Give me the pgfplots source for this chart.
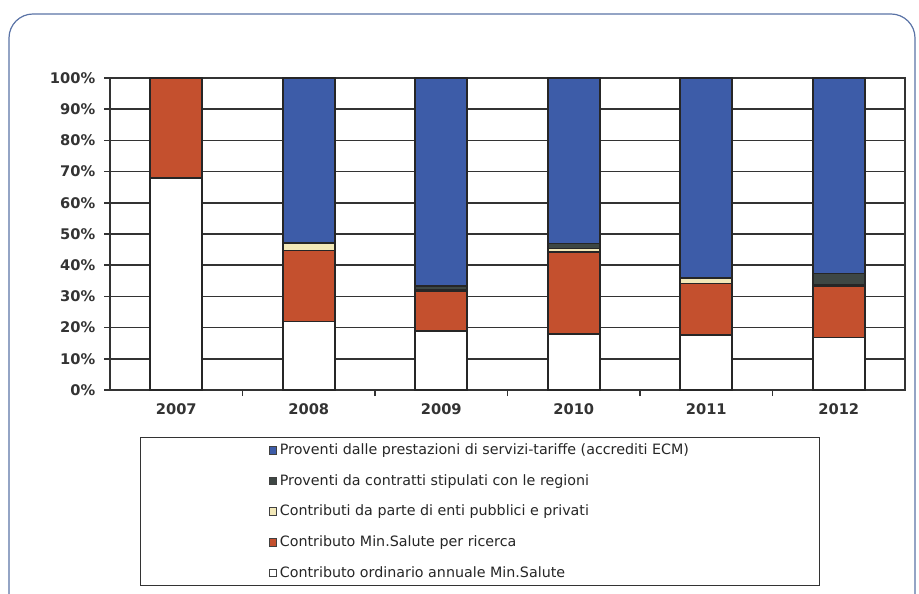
\documentclass[border=0pt]{standalone}
\usepackage{pgfplots}
\usepackage{pgfplotstable}
\pgfplotsset{compat=1.18}
\usepackage{fontspec}
\setmainfont{DejaVu Sans}
\definecolor{cblue}{HTML}{3D5CA8}
\definecolor{cred}{HTML}{C4502E}
\definecolor{ccream}{HTML}{F2E8B8}
\definecolor{cdark}{HTML}{3E4744}
\definecolor{cframe}{HTML}{5A73A6}
\definecolor{cgrid}{HTML}{333333}
\pgfplotsset{mysq/.style={legend image code/.code={\draw[##1,draw=black!75,line width=0.6pt] (0pt,-2.9pt) rectangle (5.8pt,2.9pt);}}}
\pgfplotstableread{
x ord ric enti reg prest
0 68 32 0 0 0
1 22 22.7 2.3 0.3 52.7
2 19 12.8 0.3 1.3 66.6
3 18 26.2 1.1 1.7 53
4 17.7 16.4 1.6 0.3 64
5 16.8 16.6 0.4 3.5 62.7
}\data
\begin{document}
\begin{tikzpicture}
\useasboundingbox (0,0) rectangle (689.25pt,444.75pt);
\draw[cframe, line width=0.9pt, rounded corners=18pt] (6.75pt,-20pt) rectangle (686.25pt,434.25pt);
\begin{axis}[
  at={(82.5pt,152.25pt)}, anchor=south west,
  scale only axis, width=596.25pt, height=234pt,
  ybar stacked, bar width=39pt,
  xmin=-0.5, xmax=5.5, ymin=0, ymax=100,
  xtick={0.5,1.5,2.5,3.5,4.5}, xticklabels={},
  extra x ticks={0,1,2,3,4,5},
  extra x tick labels={2007,2008,2009,2010,2011,2012},
  extra x tick style={major tick length=0pt},
  ytick={0,10,...,100},
  yticklabel={\pgfmathprintnumber{\tick}\%},
  /pgf/number format/assume math mode=true,
  ymajorgrids,
  major grid style={cgrid, line width=1.2pt},
  axis line style={cgrid, line width=1.2pt},
  tick align=outside, major tick length=4.5pt,
  tick style={cgrid, line width=1.2pt},
  xtick pos=left, ytick pos=left,
  ticklabel style={font=\bfseries\fontsize{11}{13}\selectfont, text=black!80},
  xticklabel style={yshift=-6.5pt},
  yticklabel style={xshift=-3pt},
  reverse legend,
  legend cell align=left,
  legend style={at={(0.0377,-0.1506)}, anchor=north west, draw=cgrid, line width=1pt,
    inner xsep=96pt, inner ysep=2.5pt, row sep=9.4pt,
    font=\fontsize{10.7}{12}\selectfont, text=black!85},
]
\addplot[fill=white, draw=black!85, line width=1.2pt, mysq] table[x=x,y=ord] {\data};
\addplot[fill=cred, draw=black!85, line width=1.2pt, mysq] table[x=x,y=ric] {\data};
\addplot[fill=ccream, draw=black!85, line width=1.2pt, mysq] table[x=x,y=enti] {\data};
\addplot[fill=cdark, draw=black!85, line width=1.2pt, mysq] table[x=x,y=reg] {\data};
\addplot[fill=cblue, draw=black!85, line width=1.2pt, mysq] table[x=x,y=prest] {\data};
\legend{Contributo ordinario annuale Min.Salute, Contributo Min.Salute per ricerca, Contributi da parte di enti pubblici e privati, Proventi da contratti stipulati con le regioni, Proventi dalle prestazioni di servizi-tariffe (accrediti ECM)}
\end{axis}
\end{tikzpicture}
\end{document}
